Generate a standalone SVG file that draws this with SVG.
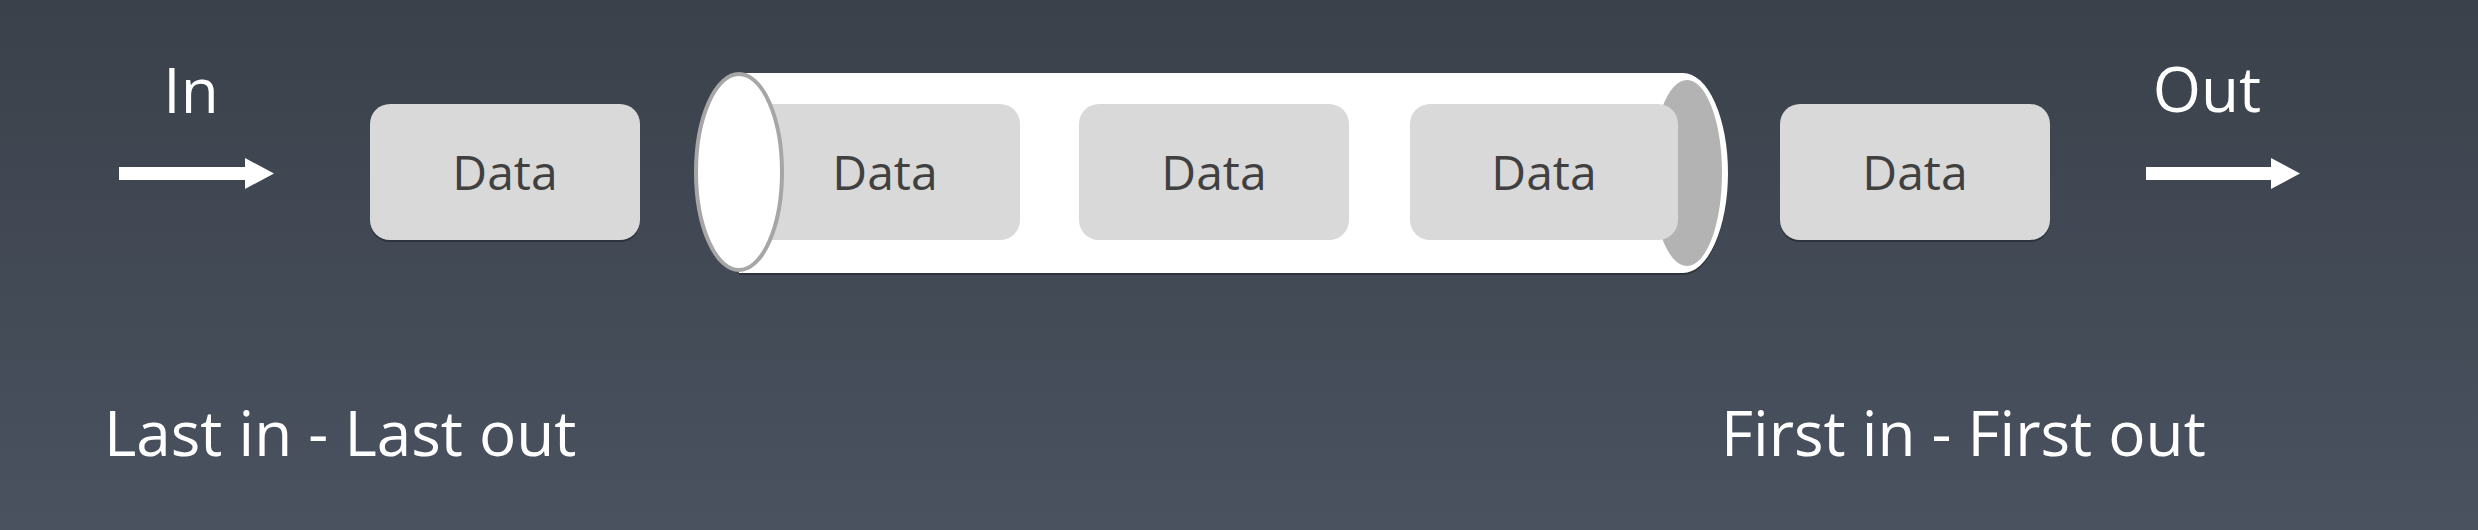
<svg xmlns="http://www.w3.org/2000/svg" width="2478" height="530" viewBox="0 0 2478 530">
  <defs>
    <linearGradient id="bg" x1="0" y1="0" x2="0" y2="1">
      <stop offset="0" stop-color="#3a414a"/>
      <stop offset="1" stop-color="#4a5260"/>
    </linearGradient>
  </defs>
  <style>
    .box { fill: #d9d9d9; }
    .shadow { fill: #262b33; opacity: 0.7; }
    .dtext { font-family: "Open Sans", "DejaVu Sans", sans-serif; font-size: 48px; fill: #404040; text-anchor: middle; }
    .label { font-family: "Open Sans", "DejaVu Sans", sans-serif; font-size: 62px; fill: #ffffff; }
    .arrow { fill: #ffffff; }
  </style>
  <rect x="0" y="0" width="2478" height="530" fill="url(#bg)"/>

  <g id="connectors">
    <path class="arrow" d="M119,167 H245 V158 L274,173.5 L245,189 V180 H119 Z"/>
    <path class="arrow" d="M2146,167 H2271 V158 L2300,173.5 L2271,189 V180 H2146 Z"/>
  </g>

  <g id="label-in">
    <text class="label" x="191" y="113" text-anchor="middle">In</text>
  </g>
  <g id="label-out">
    <text class="label" x="2207" y="112" text-anchor="middle">Out</text>
  </g>

  <g id="data-1">
    <rect class="shadow" x="370" y="106" width="270" height="136" rx="20" ry="20"/>
    <rect class="box" x="370" y="104" width="270" height="136" rx="20" ry="20"/>
    <text class="dtext" x="505" y="190">Data</text>
  </g>

  <g id="pipe">
    <path class="shadow" d="M739,75 H1683 A45 100 0 0 1 1683 275 H739 Z"/>
    <path fill="#ffffff" d="M739,73 H1683 A45 100 0 0 1 1683 273 H739 Z"/>
    <ellipse cx="1687" cy="173" rx="35" ry="93" fill="#b3b3b3"/>
  </g>

  <g id="data-2">
    <rect class="box" x="750" y="104" width="270" height="136" rx="20" ry="20"/>
    <text class="dtext" x="885" y="190">Data</text>
  </g>
  <g id="data-3">
    <rect class="box" x="1079" y="104" width="270" height="136" rx="20" ry="20"/>
    <text class="dtext" x="1214" y="190">Data</text>
  </g>
  <g id="data-4">
    <rect class="box" x="1410" y="104" width="268" height="136" rx="20" ry="20"/>
    <text class="dtext" x="1544" y="190">Data</text>
  </g>

  <g id="pipe-mouth">
    <ellipse cx="739" cy="172" rx="43" ry="98" fill="#ffffff" stroke="#a6a6a6" stroke-width="4"/>
  </g>

  <g id="data-5">
    <rect class="shadow" x="1780" y="106" width="270" height="136" rx="20" ry="20"/>
    <rect class="box" x="1780" y="104" width="270" height="136" rx="20" ry="20"/>
    <text class="dtext" x="1915" y="190">Data</text>
  </g>

  <g id="label-lilo">
    <text class="label" x="104" y="456">Last in - Last out</text>
  </g>
  <g id="label-fifo">
    <text class="label" x="1721" y="456">First in - First out</text>
  </g>
</svg>
